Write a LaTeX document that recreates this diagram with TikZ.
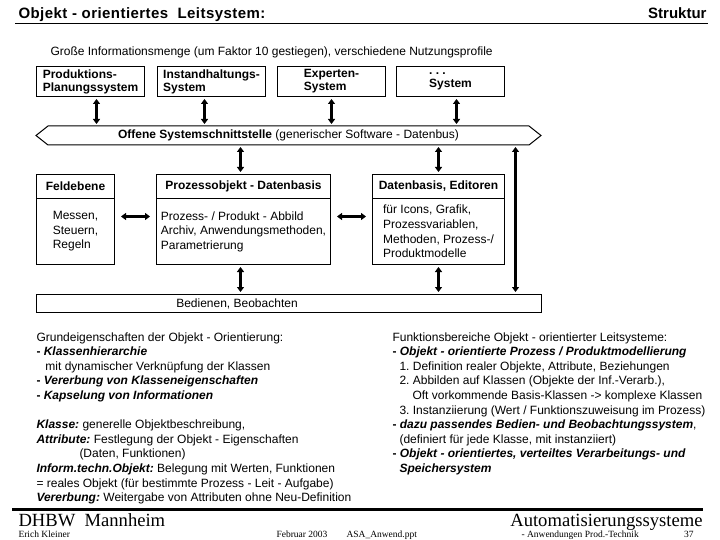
\documentclass[tikz,border=0pt]{standalone}
\usepackage{fontspec}
\setmainfont{Liberation Sans}
\newfontfamily\footserif{Liberation Serif}
\usetikzlibrary{arrows.meta}
\frenchspacing

\begin{document}
\begin{tikzpicture}[
        x=1pt, y=-1pt, line width=1pt,
        every node/.style={inner sep=0pt, font=\fontsize{12}{14.6}\selectfont},
        topbox/.style={
            draw,
            anchor=north west,
            minimum width=108,
            minimum height=30,
            align=left,
            font=\fontsize{12}{13}\selectfont\bfseries
        },
        headbox/.style={draw, anchor=north west, minimum height=24, font=\fontsize{12}{13}\selectfont\bfseries},
        bodybox/.style={draw, anchor=north west, minimum height=66, align=left},
        textblock/.style={anchor=north west, align=left},
        serifbig/.style={font=\footserif\fontsize{18.6}{20}\selectfont},
        serifsmall/.style={font=\footserif\fontsize{9.5}{11}\selectfont},
        dbl/.style={{Triangle[length=5pt,width=7pt]}-{Triangle[length=5pt,width=7pt]}, line width=2.5pt, shorten >=2pt, shorten <=2pt}
    ]

    \useasboundingbox (0,0) rectangle (720,540);

    \node[anchor=base west, font=\fontsize{15}{18}\selectfont\bfseries\addfontfeatures{LetterSpace=3}] (title) at (18,19) {Objekt - orientiertes\ \ Leitsystem:};
    \node[anchor=base east, font=\fontsize{15}{18}\selectfont\bfseries] (struktur) at (707,19) {Struktur};
    \draw (15,24) -- (708,24);

    \node[anchor=base west] (menge) at (50,56) {Große Informationsmenge (um Faktor 10 gestiegen), verschiedene Nutzungsprofile};

    \node[topbox] (prod) at (36,66) {Produktions-\\Planungssystem};
    \node[topbox] (inst) at (157,66) {Instandhaltungs-\\System};
    \node[topbox] (expert) at (277,66) {Experten-\\System};
    \node[topbox] (weitere) at (396,66) {. . .\\System};

    \node[anchor=north west, minimum width=480, minimum height=18] (bus) at (48,126) {\textbf{Offene Systemschnittstelle} (generischer Software - Datenbus)};
    \draw (bus.north west) -- (bus.north east) -- ([xshift=12]bus.east) -- (bus.south east)
        -- (bus.south west) -- ([xshift=-12]bus.west) -- cycle;

    \draw[dbl] ([xshift=6]prod.south) -- ([xshift=6]prod.south |- bus.north);
    \draw[dbl] ([xshift=-7]inst.south) -- ([xshift=-7]inst.south |- bus.north);
    \draw[dbl] (expert.south) -- (expert.south |- bus.north);
    \draw[dbl] ([xshift=6]weitere.south) -- ([xshift=6]weitere.south |- bus.north);

    \node[headbox, minimum width=78] (feldh) at (36,174) {Feldebene};
    \node[bodybox, minimum width=78] (feldb) at (36,198) {Messen,\\Steuern,\\Regeln};
    \node[headbox, minimum width=174] (prozh) at (156,174) {Prozessobjekt - Datenbasis};
    \node[bodybox, minimum width=174] (prozb) at (156,198) {Prozess- / Produkt - Abbild\\Archiv, Anwendungsmethoden,\\Parametrierung};
    \node[headbox, minimum width=132] (dath) at (372,174) {Datenbasis, Editoren};
    \node[bodybox, minimum width=132] (datb) at (372,198) {für Icons, Grafik,\\Prozessvariablen,\\Methoden, Prozess-/\\Produktmodelle};

    \node[draw, anchor=north west, minimum width=505, minimum height=18] (bed) at (36,294) {};
    \node (bedtext) at ([xshift=-52]bed.center) {Bedienen, Beobachten};

    \draw[dbl] ([xshift=-3]prozh.north |- bus.south) -- ([xshift=-3]prozh.north);
    \draw[dbl] (dath.north |- bus.south) -- (dath.north);
    \draw[dbl] ([xshift=227]bus.south) -- ([xshift=227]bus.south |- bed.north);
    \draw[dbl, shorten >=6pt, shorten <=6pt] ([yshift=15]feldb.east) -- ([yshift=15]prozb.west);
    \draw[dbl, shorten >=6pt, shorten <=6pt] ([yshift=15]prozb.east) -- ([yshift=15]datb.west);
    \draw[dbl] ([xshift=-3]prozb.south) -- ([xshift=-3]prozb.south |- bed.north);
    \draw[dbl] (datb.south) -- (datb.south |- bed.north);

    \node[textblock] (grund) at (36,332) {Grundeigenschaften der Objekt - Orientierung:\\
        \textbf{- \textit{Klassenhierarchie}}\\
        \hspace*{9pt}mit dynamischer Verknüpfung der Klassen\\
        \textbf{- \textit{Vererbung von Klasseneigenschaften}}\\
        \textbf{- \textit{Kapselung von Informationen}}\\
        \mbox{}\\
        \textbf{\textit{Klasse:}} generelle Objektbeschreibung,\\
        \textbf{\textit{Attribute:}} Festlegung der Objekt - Eigenschaften\\
        \hspace*{43pt}(Daten, Funktionen)\\
        \textbf{\textit{Inform.techn.Objekt:}} Belegung mit Werten, Funktionen\\
        = reales Objekt (für bestimmte Prozess - Leit - Aufgabe)\\
        \textbf{\textit{Vererbung:}} Weitergabe von Attributen ohne Neu-Definition};

    \node[textblock] (funktion) at (392,332) {Funktionsbereiche Objekt - orientierter Leitsysteme:\\
        \textbf{- \textit{Objekt - orientierte Prozess / Produktmodellierung}}\\
        \hspace*{7pt}1. Definition realer Objekte, Attribute, Beziehungen\\
        \hspace*{7pt}2. Abbilden auf Klassen (Objekte der Inf.-Verarb.),\\
        \hspace*{20pt}Oft vorkommende Basis-Klassen -> komplexe Klassen\\
        \hspace*{7pt}3. Instanziierung (Wert / Funktionszuweisung im Prozess)\\
        \textbf{- \textit{dazu passendes Bedien- und Beobachtungssystem}},\\
        \hspace*{7pt}(definiert für jede Klasse, mit instanziiert)\\
        \textbf{- \textit{Objekt - orientiertes, verteiltes Verarbeitungs- und}}\\
        \hspace*{7pt}\textbf{\textit{Speichersystem}}};

    \draw[line width=3pt] (12,509) -- (703,509);
    \node[serifbig, anchor=base west] (dhbw) at (18,526) {DHBW\ \ Mannheim};
    \node[serifbig, anchor=base east] (autosys) at (703,526) {Automatisierungssysteme};

    \node[serifsmall, anchor=base west] (autor) at (18,537.5) {Erich Kleiner};
    \node[serifsmall, anchor=base west] (datum) at (276,537.5) {Februar 2003};
    \node[serifsmall, anchor=base west] (datei) at (346,537.5) {ASA\_Anwend.ppt};
    \node[serifsmall, anchor=base west] (kapitel) at (521,537.5) {- Anwendungen Prod.-Technik};
    \node[serifsmall, anchor=base east] (seite) at (694,537.5) {37};

\end{tikzpicture}
\end{document}
